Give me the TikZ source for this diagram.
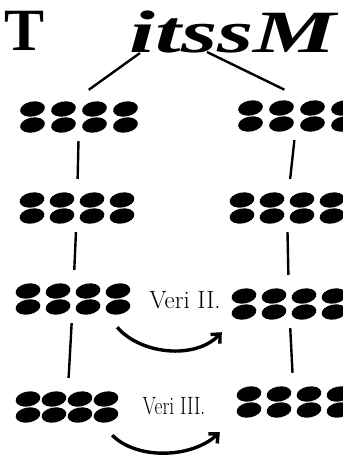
\documentclass[tikz,border=0pt]{standalone}
\usepackage{fontspec}
\newfontfamily\titlefont{Liberation Serif}
\usetikzlibrary{arrows.meta,positioning}
\tikzset{
  chromgroup/.style={minimum width=130pt,minimum height=40pt,inner sep=0pt,
    path picture={
      \foreach \cc in {-1.5,-0.5,0.5,1.5}
        \foreach \rr in {-1,1}
          \fill ([xshift=\cc*#1pt,yshift=\rr*8pt]path picture bounding box.center)
            ellipse [x radius=12.5pt,y radius=7.5pt,rotate=10];
    }},
  chromgroup/.default=30,
  link/.style={line width=2.4pt,shorten <=4pt,shorten >=9pt},
  forkline/.style={line width=2.4pt},
  swaparrow/.style={line width=3.4pt,-{Straight Barb[length=7pt,width=13pt]}},
  veri/.style={font=\fontsize{25}{25}\selectfont}
}
\begin{document}
\begin{tikzpicture}[x=1pt,y=-1pt]
\useasboundingbox (0,0) rectangle (343,459);
\clip (0,0) rectangle (343,459);

\node[anchor=base,font=\titlefont\bfseries\fontsize{60}{60}\selectfont] (T) at (25,50) {T};
\node[anchor=base,font=\titlefont\bfseries\itshape\fontsize{60}{60}\selectfont] (itssM) at (233,52) {\scalebox{1.55}[1]{itssM}};

\node[chromgroup=31] (L1) at (79,117) {};
\node[chromgroup=30] (L2) at (77,208) {};
\node[chromgroup=30] (L3) at (73,299) {};
\node[chromgroup=26] (L4) at (67,407) {};

\node[chromgroup=31] (R1) at (297,116) {};
\node[chromgroup=30] (R2) at (287,208) {};
\node[chromgroup=30] (R3) at (289,304) {};
\node[chromgroup=30] (R4) at (294,402) {};

\coordinate (fork-l) at (140,53);
\coordinate (fork-r) at (207,52);
\draw[forkline,shorten >=12pt] (fork-l) -- (L1.north);
\draw[forkline,shorten >=14pt] (fork-r) -- (R1.north);

\draw[link] (L1) -- (L2);
\draw[link] (L2) -- (L3);
\draw[link] (L3) -- (L4);
\draw[link] (R1) -- (R2);
\draw[link] (R2) -- (R3);
\draw[link] (R3) -- (R4);

\node[veri] (lab2) at (185,300) {Veri II.};
\node[veri] (lab3) at (174,406) {\scalebox{0.78}[1]{Veri III.}};

\draw[swaparrow] ([shift={(-21,8)}]L3.south east) .. controls +(23,27) and +(-27,28) .. ([shift={(-2,8)}]R3.south west);
\draw[swaparrow] ([shift={(-20,8)}]L4.south east) .. controls +(25,25) and +(-28,26) .. ([shift={(-9,10)}]R4.south west);
\end{tikzpicture}
\end{document}
